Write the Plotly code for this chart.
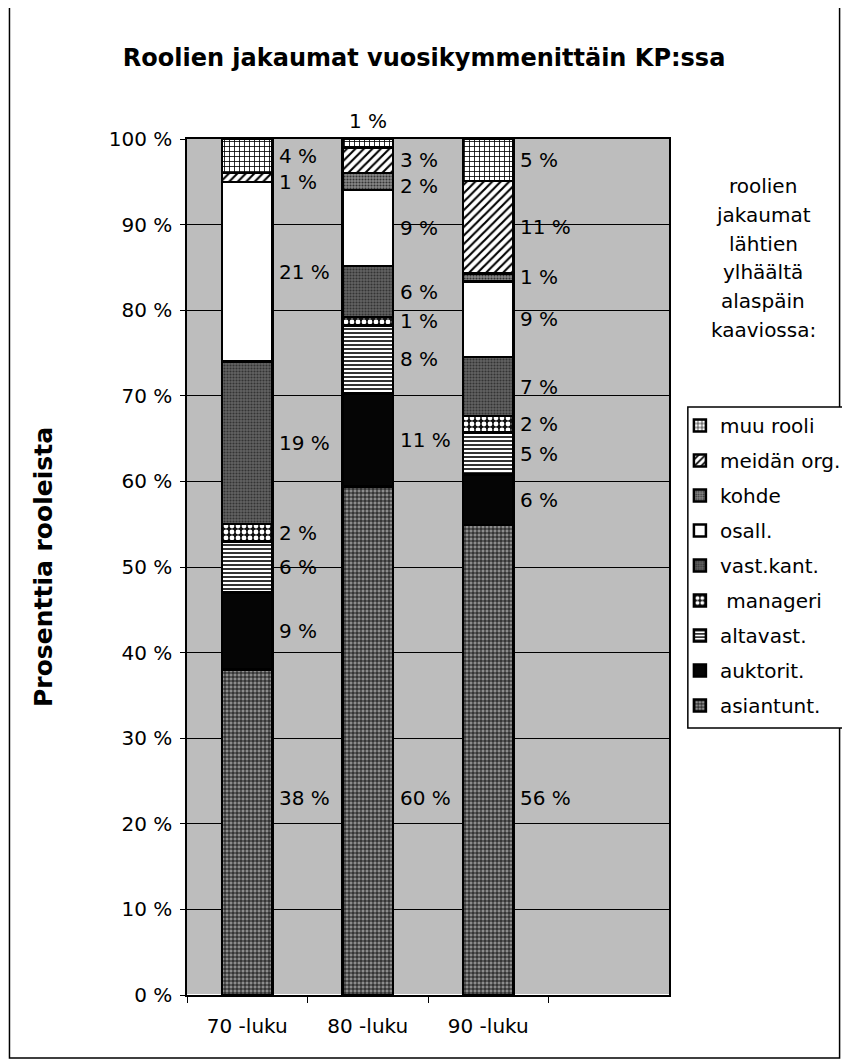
import plotly.graph_objects as go

# --- data (osuudet prosentteina, Excel 100 % pinottu) ---
decades = ["70 -luku", "80 -luku", "90 -luku"]
roles = ["asiantunt.", "auktorit.", "altavast.", " manageri", "vast.kant.",
         "osall.", "kohde", "meidän org.", "muu rooli"]
asiantunt = [38, 60, 56]
auktorit = [9, 11, 6]
altavast = [6, 8, 5]
manageri = [2, 1, 2]
vast_kant = [19, 6, 7]
osall = [21, 9, 9]
kohde = [0, 2, 1]
meidan_org = [1, 3, 11]
muu_rooli = [4, 1, 5]
series = [asiantunt, auktorit, altavast, manageri, vast_kant,
          osall, kohde, meidan_org, muu_rooli]

side_text = ["roolien", "jakaumat", "lähtien", "ylhäältä", "alaspäin", "kaaviossa:"]

# täyttökuviot (mustavalkoinen Excel-tyyli)
styles = [
    dict(shape="+", fgcolor="#000000", bgcolor="#8c8c8c", size=4, solidity=0.35),
    dict(shape="", fgcolor="#000000", bgcolor="#050505", size=4, solidity=0.3),
    dict(shape="-", fgcolor="#000000", bgcolor="#ffffff", size=4, solidity=0.4),
    dict(shape=".", fgcolor="#ffffff", bgcolor="#111111", size=6, solidity=0.5),
    dict(shape=".", fgcolor="#333333", bgcolor="#626262", size=3, solidity=0.4),
    dict(shape="", fgcolor="#ffffff", bgcolor="#ffffff", size=4, solidity=0.3),
    dict(shape=".", fgcolor="#333333", bgcolor="#888888", size=3, solidity=0.4),
    dict(shape="/", fgcolor="#000000", bgcolor="#ffffff", size=6, solidity=0.35),
    dict(shape="+", fgcolor="#000000", bgcolor="#ffffff", size=5, solidity=0.3),
]

FONT = "DejaVu Sans, Liberation Sans, Arial, sans-serif"
BOTTOM_LABEL_Y = 23   # isojen alaosien otsikot ovat samalla korkeudella
MIN_GAP = 3.0         # arvotekstien vähimmäisväli (%-yksikköinä)

# sivun oletusmarginaali (8 px) siirtää kuvaa, korjataan marginaaleissa
SHIFT = 8
PW, PH = 486, 856          # piirtoalueen koko
PL, PT = 187, 139          # piirtoalueen vasen/yläreuna viitekuvassa


def px_x(x):
    return (x - PL) / PW


def px_y(y):
    return (PT + PH - y) / PH


fig = go.Figure()
for i, (name, vals) in enumerate(zip(roles, series)):
    st = styles[i]
    fig.add_trace(go.Bar(
        x=decades,
        y=vals,
        name=name,
        legendgroup=name,
        legendrank=len(roles) - i,
        width=0.42,
        marker=dict(
            color=st["bgcolor"],
            line=dict(color="#000000", width=2.5),
            pattern=dict(shape=st["shape"], fgcolor=st["fgcolor"], bgcolor=st["bgcolor"],
                         size=st["size"], solidity=st["solidity"], fillmode="replace"),
        ),
        hoverinfo="skip",
    ))

# arvotekstit palkkien oikealle puolelle
for j, dec in enumerate(decades):
    total = sum(s[j] for s in series)
    cum = 0.0
    side = []   # (y, teksti) palkin vieressä
    for i, s in enumerate(series):
        v = s[j]
        share = v / total * 100
        center = cum + share / 2
        cum += share
        if v == 0:
            continue
        if i == 0:
            side.append([BOTTOM_LABEL_Y, f"{v} %"])
        elif i == len(series) - 1 and share < 2:
            fig.add_annotation(x=dec, y=100, text=f"{v} %", showarrow=False,
                               yanchor="bottom", yshift=4, font=dict(size=20, color="#000"))
        else:
            side.append([center, f"{v} %"])
    # työnnetään päällekkäiset tekstit alaspäin
    for k in range(len(side) - 2, -1, -1):
        if side[k][0] > side[k + 1][0] - MIN_GAP:
            side[k][0] = side[k + 1][0] - MIN_GAP
    for y, txt in side:
        fig.add_annotation(x=dec, y=y, text=txt, showarrow=False,
                           xanchor="left", xshift=30, font=dict(size=20, color="#000"))

# selitysteksti legendan yläpuolelle
for k, line in enumerate(side_text):
    fig.add_annotation(xref="paper", yref="paper", x=px_x(768), y=px_y(186), yshift=-28.8 * k,
                       text=line, showarrow=False, xanchor="center", yanchor="middle",
                       font=dict(size=20, color="#000"))

# kaavion ulkoreunus
fig.add_shape(type="rect", xref="paper", yref="paper",
              x0=px_x(8), x1=px_x(845), y0=px_y(1058), y1=px_y(3),
              line=dict(color="#000000", width=1.5))
# selitteen kehys
fig.add_shape(type="rect", xref="paper", yref="paper",
              x0=px_x(692), x1=px_x(852), y0=px_y(728), y1=px_y(407),
              fillcolor="#ffffff", line=dict(color="#000000", width=1.5))

fig.update_layout(
    width=850,
    height=1063,
    barmode="stack",
    barnorm="percent",
    paper_bgcolor="#ffffff",
    plot_bgcolor="#bdbdbd",
    font=dict(family=FONT, size=20, color="#000000"),
    title=dict(text="<b>Roolien jakaumat vuosikymmenittäin KP:ssa</b>",
               x=px_x(426), xref="paper", xanchor="center",
               y=1 - (58 - SHIFT) / 1063, yanchor="middle",
               yref="container", font=dict(size=24, family=FONT)),
    margin=dict(l=PL - SHIFT, r=850 - PL - PW + SHIFT, t=PT - SHIFT, b=1063 - PT - PH + SHIFT),
    legend=dict(
        x=px_x(684), y=px_y(406), xanchor="left", yanchor="top",
        traceorder="grouped", tracegroupgap=6,
        bgcolor="rgba(0,0,0,0)", borderwidth=0,
        font=dict(size=20, family=FONT), itemwidth=30,
    ),
    showlegend=True,
)

fig.update_yaxes(
    range=[0, 100], dtick=10, ticksuffix=" %",
    showgrid=True, gridcolor="#000000", gridwidth=1,
    ticks="outside", ticklen=5, tickcolor="#000000",
    showline=True, linecolor="#000000", linewidth=1.5, mirror=True,
    title=dict(text="<b>Prosenttia rooleista</b>", font=dict(size=25), standoff=49),
    tickfont=dict(size=20), ticklabelstandoff=4,
)
fig.update_xaxes(
    type="category", range=[-0.5, 3.5],
    tickson="boundaries", ticks="outside", ticklen=6, tickcolor="#000000",
    showline=True, linecolor="#000000", linewidth=1.5, mirror=True,
    showgrid=False, tickfont=dict(size=20), ticklabelstandoff=12,
)

fig.write_html("out.html")
